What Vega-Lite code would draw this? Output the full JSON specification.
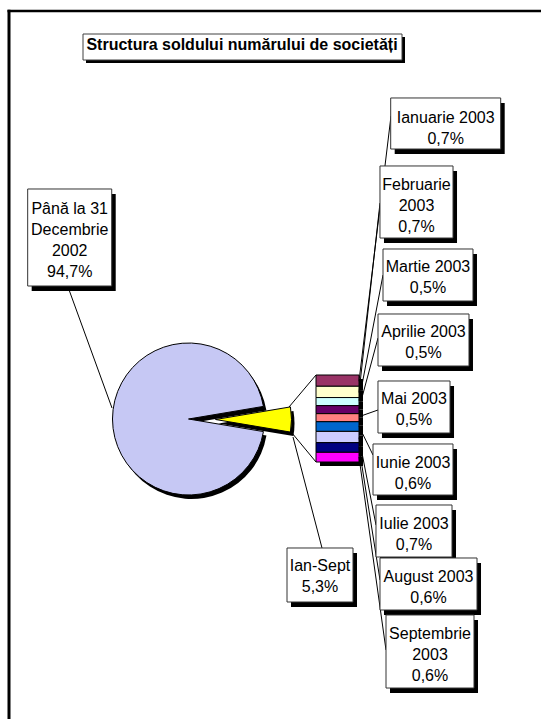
{
 "$schema": "https://vega.github.io/schema/vega-lite/v6.json",
 "width": 541, "height": 719, "autosize": "none", "padding": 0, "background": "white",
 "config": {"view": {"stroke": null}},
 "datasets": {
  "pie": [
   {"segment": "Până la 31 Decembrie 2002", "pct": 94.7, "k": 0, "caption": "Până la 31\nDecembrie\n2002\n94,7%"},
   {"segment": "Ian-Sept", "pct": 5.3, "k": 1, "caption": "Ian-Sept\n5,3%"}
  ],
  "months": [
   {"month": "Ianuarie 2003", "pct": 0.7, "m": 1, "caption": "Ianuarie 2003\n0,7%"},
   {"month": "Februarie 2003", "pct": 0.7, "m": 2, "caption": "Februarie\n2003\n0,7%"},
   {"month": "Martie 2003", "pct": 0.5, "m": 3, "caption": "Martie 2003\n0,5%"},
   {"month": "Aprilie 2003", "pct": 0.5, "m": 4, "caption": "Aprilie 2003\n0,5%"},
   {"month": "Mai 2003", "pct": 0.5, "m": 5, "caption": "Mai 2003\n0,5%"},
   {"month": "Iunie 2003", "pct": 0.6, "m": 6, "caption": "Iunie 2003\n0,6%"},
   {"month": "Iulie 2003", "pct": 0.7, "m": 7, "caption": "Iulie 2003\n0,7%"},
   {"month": "August 2003", "pct": 0.6, "m": 8, "caption": "August 2003\n0,6%"},
   {"month": "Septembrie 2003", "pct": 0.6, "m": 9, "caption": "Septembrie\n2003\n0,6%"}
  ]
 },
 "resolve": {"scale": {"x": "independent", "y": "independent", "theta": "independent", "shape": "independent", "fill": "independent"}},
 "layer": [
  {
   "data": {"values": [{}]},
   "layer": [
    {"mark": {"type": "rule", "stroke": "black", "strokeWidth": 2.5},
     "encoding": {"x": {"datum": 7.5, "type": "quantitative", "scale": {"domain": [0, 541]}, "axis": null}, "x2": {"datum": 541},
                  "y": {"datum": 11, "type": "quantitative", "scale": {"domain": [0, 719], "range": [0, 719]}, "axis": null}}},
    {"mark": {"type": "rule", "stroke": "black", "strokeWidth": 3},
     "encoding": {"x": {"datum": 9, "type": "quantitative", "scale": {"domain": [0, 541]}, "axis": null},
                  "y": {"datum": 9.8, "type": "quantitative", "scale": {"domain": [0, 719], "range": [0, 719]}, "axis": null}, "y2": {"datum": 719}}},
    {"mark": {"type": "rect", "fill": "black"},
     "encoding": {"x": {"datum": 86, "type": "quantitative", "scale": {"domain": [0, 541]}, "axis": null}, "x2": {"datum": 405},
                  "y": {"datum": 37, "type": "quantitative", "scale": {"domain": [0, 719], "range": [0, 719]}, "axis": null}, "y2": {"datum": 63}}},
    {"mark": {"type": "rect", "fill": "white", "stroke": "#404040", "strokeWidth": 1},
     "encoding": {"x": {"datum": 83, "type": "quantitative", "scale": {"domain": [0, 541]}, "axis": null}, "x2": {"datum": 402},
                  "y": {"datum": 34, "type": "quantitative", "scale": {"domain": [0, 719], "range": [0, 719]}, "axis": null}, "y2": {"datum": 60}}},
    {"mark": {"type": "text", "font": "Liberation Sans", "fontSize": 16, "fontWeight": "bold", "align": "center", "baseline": "alphabetic", "color": "black"},
     "encoding": {"x": {"datum": 242, "type": "quantitative", "scale": {"domain": [0, 541]}, "axis": null},
                  "y": {"datum": 49.5, "type": "quantitative", "scale": {"domain": [0, 719], "range": [0, 719]}, "axis": null},
                  "text": {"value": "Structura soldului numărului de societăți"}}},
    {"mark": {"type": "rule", "stroke": "black", "strokeWidth": 1},
     "encoding": {"x": {"datum": 289, "type": "quantitative", "scale": {"domain": [0, 541]}, "axis": null}, "x2": {"datum": 316},
                  "y": {"datum": 407, "type": "quantitative", "scale": {"domain": [0, 719], "range": [0, 719]}, "axis": null}, "y2": {"datum": 375}}},
    {"mark": {"type": "rule", "stroke": "black", "strokeWidth": 1},
     "encoding": {"x": {"datum": 292, "type": "quantitative", "scale": {"domain": [0, 541]}, "axis": null}, "x2": {"datum": 316},
                  "y": {"datum": 433, "type": "quantitative", "scale": {"domain": [0, 719], "range": [0, 719]}, "axis": null}, "y2": {"datum": 462}}},
    {"mark": {"type": "rule", "stroke": "black", "strokeWidth": 1},
     "encoding": {"x": {"datum": 293, "type": "quantitative", "scale": {"domain": [0, 541]}, "axis": null}, "x2": {"datum": 322},
                  "y": {"datum": 437, "type": "quantitative", "scale": {"domain": [0, 719], "range": [0, 719]}, "axis": null}, "y2": {"datum": 548}}},
    {"mark": {"type": "rule", "stroke": "black", "strokeWidth": 1},
     "encoding": {"x": {"datum": 68, "type": "quantitative", "scale": {"domain": [0, 541]}, "axis": null}, "x2": {"datum": 112},
                  "y": {"datum": 287, "type": "quantitative", "scale": {"domain": [0, 719], "range": [0, 719]}, "axis": null}, "y2": {"datum": 408}}}
   ]
  },
  {
   "data": {"name": "pie"},
   "resolve": {"scale": {"theta": "independent"}},
   "layer": [
    {"transform": [{"filter": {"field": "k", "equal": 0}}],
     "mark": {"type": "arc", "radius": 76, "fill": "black"},
     "encoding": {"x": {"datum": 191.5, "type": "quantitative", "scale": {"domain": [0, 541]}, "axis": null},
                  "y": {"datum": 423, "type": "quantitative", "scale": {"domain": [0, 719], "range": [0, 719]}, "axis": null},
                  "theta": {"field": "pct", "type": "quantitative", "scale": {"domain": [0, 100], "range": [1.7372, 8.0204]}}}},
    {"transform": [{"filter": {"field": "k", "equal": 0}}],
     "mark": {"type": "arc", "radius": 76, "fill": "#C6C8F4", "stroke": "black", "strokeWidth": 1},
     "encoding": {"x": {"datum": 188.5, "type": "quantitative", "scale": {"domain": [0, 541]}, "axis": null},
                  "y": {"datum": 419, "type": "quantitative", "scale": {"domain": [0, 719], "range": [0, 719]}, "axis": null},
                  "theta": {"field": "pct", "type": "quantitative", "scale": {"domain": [0, 100], "range": [1.7372, 8.0204]}}}},
    {"transform": [{"filter": {"field": "k", "equal": 1}}],
     "mark": {"type": "arc", "radius": 76, "fill": "black"},
     "encoding": {"x": {"datum": 218.5, "type": "quantitative", "scale": {"domain": [0, 541]}, "axis": null},
                  "y": {"datum": 423.5, "type": "quantitative", "scale": {"domain": [0, 719], "range": [0, 719]}, "axis": null},
                  "theta": {"field": "pct", "type": "quantitative", "scale": {"domain": [0, 100], "range": [1.4042, 7.6874]}}}},
    {"transform": [{"filter": {"field": "k", "equal": 1}}],
     "mark": {"type": "arc", "radius": 76, "fill": "#FFFF00", "stroke": "black", "strokeWidth": 1},
     "encoding": {"x": {"datum": 215.5, "type": "quantitative", "scale": {"domain": [0, 541]}, "axis": null},
                  "y": {"datum": 419.5, "type": "quantitative", "scale": {"domain": [0, 719], "range": [0, 719]}, "axis": null},
                  "theta": {"field": "pct", "type": "quantitative", "scale": {"domain": [0, 100], "range": [1.4042, 7.6874]}}}}
   ]
  },
  {
   "data": {"name": "months"},
   "transform": [{"stack": "pct", "groupby": [], "sort": [{"field": "m", "order": "descending"}], "as": ["lo", "hi"]}],
   "layer": [
    {"mark": {"type": "rect", "fill": "black", "xOffset": 4, "x2Offset": 4, "yOffset": 4, "y2Offset": 4},
     "encoding": {"x": {"datum": 316, "type": "quantitative", "scale": {"domain": [0, 541]}, "axis": null}, "x2": {"datum": 359},
                  "y": {"field": "lo", "type": "quantitative", "scale": {"domain": [0, 5.4], "range": [462, 375]}, "axis": null}, "y2": {"field": "hi"}}},
    {"mark": {"type": "rect", "stroke": "black", "strokeWidth": 1},
     "encoding": {"x": {"datum": 316, "type": "quantitative", "scale": {"domain": [0, 541]}, "axis": null}, "x2": {"datum": 359},
                  "y": {"field": "lo", "type": "quantitative", "scale": {"domain": [0, 5.4], "range": [462, 375]}, "axis": null}, "y2": {"field": "hi"},
                  "fill": {"field": "month", "type": "nominal", "legend": null,
                           "scale": {"domain": ["Ianuarie 2003", "Februarie 2003", "Martie 2003", "Aprilie 2003", "Mai 2003", "Iunie 2003", "Iulie 2003", "August 2003", "Septembrie 2003"],
                                     "range": ["#993366", "#FFFFCC", "#CCFFFF", "#660066", "#FF8080", "#0066CC", "#CCCCFF", "#000080", "#FF00FF"]}}}}
   ]
  },
  {
   "data": {"name": "months"},
   "transform": [{"stack": "pct", "groupby": [], "sort": [{"field": "m", "order": "descending"}], "offset": "normalize", "as": ["lo", "hi"]}],
   "mark": {"type": "rule", "stroke": "black", "strokeWidth": 1},
   "encoding": {
    "x": {"field": "m", "type": "quantitative", "axis": null, "scale": {"domain": [0, 0.999, 1, 2, 3, 4, 5, 6, 7, 8, 9], "range": [359, 359, 391, 380, 383, 378, 378, 373, 376, 380, 386]}},
    "x2": {"datum": 0},
    "y": {"field": "m", "type": "quantitative", "axis": null, "scale": {"domain": [0, 0.999, 1, 2, 3, 4, 5, 6, 7, 8, 9], "range": [457, 370, 116, 203, 275, 338, 410, 455, 525, 580, 650]}},
    "y2": {"field": "lo"}
   }
  },
  {
   "data": {"name": "pie"},
   "resolve": {"scale": {"y": "independent"}},
   "layer": [
    {"mark": {"type": "point", "filled": true, "fill": "black", "opacity": 1, "strokeWidth": 0, "size": 12100, "xOffset": 4, "yOffset": 5},
     "encoding": {"x": {"field": "k", "type": "quantitative", "axis": null, "scale": {"domain": [0, 1], "range": [69.7, 320]}},
                  "y": {"field": "k", "type": "quantitative", "axis": null, "scale": {"domain": [0, 1], "range": [237.5, 575]}},
                  "shape": {"field": "segment", "type": "nominal", "legend": null, "scale": {"domain": ["Până la 31 Decembrie 2002", "Ian-Sept"], "range": ["M-0.764,-0.882H0.764V0.882H-0.764Z", "M-0.6,-0.491H0.6V0.491H-0.6Z"]}}}},
    {"mark": {"type": "point", "filled": true, "fill": "white", "stroke": "#333333", "strokeWidth": 1, "opacity": 1, "size": 12100},
     "encoding": {"x": {"field": "k", "type": "quantitative", "axis": null, "scale": {"domain": [0, 1], "range": [69.7, 320]}},
                  "y": {"field": "k", "type": "quantitative", "axis": null, "scale": {"domain": [0, 1], "range": [237.5, 575]}},
                  "shape": {"field": "segment", "type": "nominal", "legend": null, "scale": {"domain": ["Până la 31 Decembrie 2002", "Ian-Sept"], "range": ["M-0.764,-0.882H0.764V0.882H-0.764Z", "M-0.6,-0.491H0.6V0.491H-0.6Z"]}}}},
    {"mark": {"type": "text", "font": "Liberation Sans", "fontSize": 16, "lineHeight": 21, "lineBreak": "\n", "align": "center", "baseline": "middle", "color": "black"},
     "encoding": {"x": {"field": "k", "type": "quantitative", "axis": null, "scale": {"domain": [0, 1], "range": [69.7, 320]}},
                  "y": {"field": "k", "type": "quantitative", "axis": null, "scale": {"domain": [0, 1], "range": [209.3, 566]}},
                  "text": {"field": "caption", "type": "nominal"}}}
   ]
  },
  {
   "data": {"name": "months"},
   "resolve": {"scale": {"y": "independent"}},
   "layer": [
    {"mark": {"type": "point", "filled": true, "fill": "black", "opacity": 1, "strokeWidth": 0, "size": 12100, "xOffset": 4, "yOffset": 5},
     "encoding": {"x": {"field": "m", "type": "quantitative", "axis": null, "scale": {"domain": [1, 2, 3, 4, 5, 6, 7, 8, 9], "range": [445.7, 416.5, 428, 423.5, 414, 413, 414, 428.5, 430]}},
                  "y": {"field": "m", "type": "quantitative", "axis": null, "scale": {"domain": [1, 2, 3, 4, 5, 6, 7, 8, 9], "range": [123.5, 202, 275, 340, 407, 469.5, 531, 584, 651.5]}},
                  "shape": {"field": "month", "type": "nominal", "legend": null, "scale": {"domain": ["Ianuarie 2003", "Februarie 2003", "Martie 2003", "Aprilie 2003", "Mai 2003", "Iunie 2003", "Iulie 2003", "August 2003", "Septembrie 2003"],
                     "range": ["M-1,-0.464H1V0.464H-1Z", "M-0.664,-0.655H0.664V0.655H-0.664Z", "M-0.818,-0.473H0.818V0.473H-0.818Z", "M-0.827,-0.473H0.827V0.473H-0.827Z", "M-0.655,-0.473H0.655V0.473H-0.655Z", "M-0.727,-0.464H0.727V0.464H-0.727Z", "M-0.691,-0.473H0.691V0.473H-0.691Z", "M-0.882,-0.473H0.882V0.473H-0.882Z", "M-0.8,-0.664H0.8V0.664H-0.8Z"]}}}},
    {"mark": {"type": "point", "filled": true, "fill": "white", "stroke": "#333333", "strokeWidth": 1, "opacity": 1, "size": 12100},
     "encoding": {"x": {"field": "m", "type": "quantitative", "axis": null, "scale": {"domain": [1, 2, 3, 4, 5, 6, 7, 8, 9], "range": [445.7, 416.5, 428, 423.5, 414, 413, 414, 428.5, 430]}},
                  "y": {"field": "m", "type": "quantitative", "axis": null, "scale": {"domain": [1, 2, 3, 4, 5, 6, 7, 8, 9], "range": [123.5, 202, 275, 340, 407, 469.5, 531, 584, 651.5]}},
                  "shape": {"field": "month", "type": "nominal", "legend": null, "scale": {"domain": ["Ianuarie 2003", "Februarie 2003", "Martie 2003", "Aprilie 2003", "Mai 2003", "Iunie 2003", "Iulie 2003", "August 2003", "Septembrie 2003"],
                     "range": ["M-1,-0.464H1V0.464H-1Z", "M-0.664,-0.655H0.664V0.655H-0.664Z", "M-0.818,-0.473H0.818V0.473H-0.818Z", "M-0.827,-0.473H0.827V0.473H-0.827Z", "M-0.655,-0.473H0.655V0.473H-0.655Z", "M-0.727,-0.464H0.727V0.464H-0.727Z", "M-0.691,-0.473H0.691V0.473H-0.691Z", "M-0.882,-0.473H0.882V0.473H-0.882Z", "M-0.8,-0.664H0.8V0.664H-0.8Z"]}}}},
    {"mark": {"type": "text", "font": "Liberation Sans", "fontSize": 16, "lineHeight": 21, "lineBreak": "\n", "align": "center", "baseline": "middle", "color": "black"},
     "encoding": {"x": {"field": "m", "type": "quantitative", "axis": null, "scale": {"domain": [1, 2, 3, 4, 5, 6, 7, 8, 9], "range": [445.7, 416.5, 428, 423.5, 414, 413, 414, 428.5, 430]}},
                  "y": {"field": "m", "type": "quantitative", "axis": null, "scale": {"domain": [1, 2, 3, 4, 5, 6, 7, 8, 9], "range": [117.7, 185, 267, 331.7, 399.3, 462.7, 523.7, 577, 633.7]}},
                  "text": {"field": "caption", "type": "nominal"}}}
   ]
  }
 ]
}
